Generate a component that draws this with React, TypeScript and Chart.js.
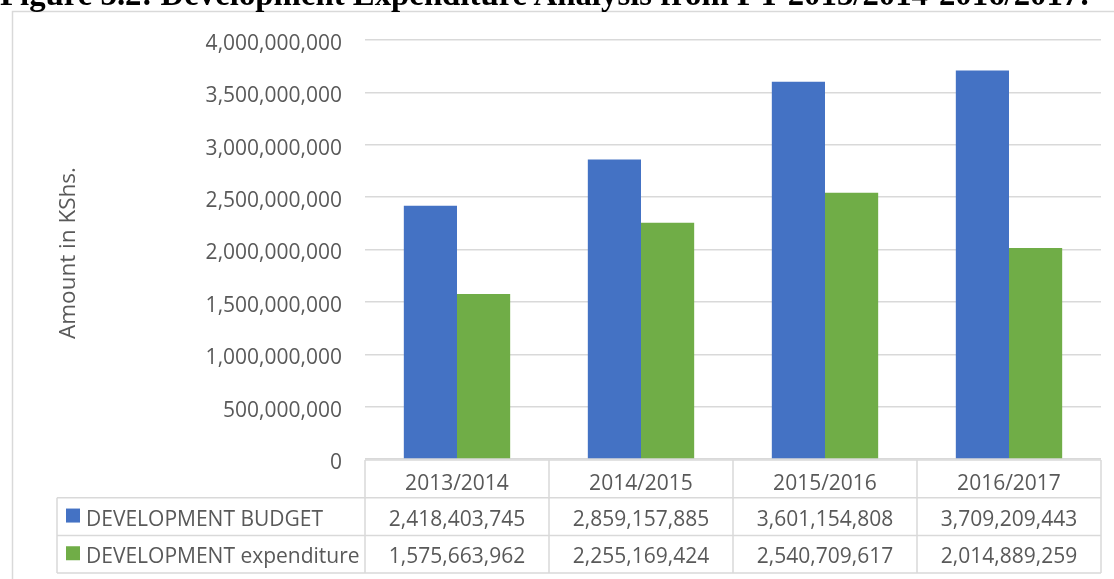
import React, { useEffect, useRef } from "react";
import { Chart, registerables } from "chart.js";

Chart.register(...registerables);

const TITLE = "Figure 3.2: Development Expenditure Analysis from FY 2013/2014-2016/2017:";
const AXIS_TITLE = "Amount in KShs.";
const categories = ["2013/2014", "2014/2015", "2015/2016", "2016/2017"];
const seriesNames = ["DEVELOPMENT BUDGET", "DEVELOPMENT expenditure"];
const budget = [2418403745, 2859157885, 3601154808, 3709209443];
const expenditure = [1575663962, 2255169424, 2540709617, 2014889259];
const yMin = 0;
const yMax = 4000000000;
const yStep = 500000000;
const seriesColors = ["#4472C4", "#70AD47"];

const FONT = "'Open Sans', sans-serif";
const TEXT_COLOR = "#595959";
const LINE_COLOR = "#d9d9d9";

const fmt = (v: number) => v.toLocaleString("en-US");

const tablePlugin = {
  id: "dataTable",
  beforeDraw(chart: any) {
    const ctx = chart.ctx;
    ctx.save();
    ctx.strokeStyle = LINE_COLOR;
    ctx.lineWidth = 1.5;
    ctx.beginPath();
    ctx.moveTo(12.5, chart.height);
    ctx.lineTo(12.5, 11.5);
    ctx.lineTo(chart.width, 11.5);
    ctx.stroke();
    ctx.restore();
  },
  afterDraw(chart: any) {
    const ctx = chart.ctx;
    const area = chart.chartArea;
    const xs = chart.scales.x;
    const n = categories.length;
    const colW = (area.right - area.left) / n;
    const top = area.bottom + 1;
    const rowH = 37.7;
    const legendLeft = 57;
    const rows = [budget, expenditure];
    ctx.save();
    ctx.strokeStyle = LINE_COLOR;
    ctx.lineWidth = 1.5;
    ctx.beginPath();
    ctx.moveTo(area.left, top);
    ctx.lineTo(area.right, top);
    for (let r = 1; r <= rows.length + 1; r++) {
      const y = top + r * rowH;
      ctx.moveTo(legendLeft, y);
      ctx.lineTo(area.right, y);
    }
    for (let c = 0; c <= n; c++) {
      const x = area.left + c * colW;
      ctx.moveTo(x, top);
      ctx.lineTo(x, top + (rows.length + 1) * rowH);
    }
    ctx.moveTo(legendLeft, top + rowH);
    ctx.lineTo(legendLeft, top + (rows.length + 1) * rowH);
    ctx.stroke();

    ctx.font = `21px ${FONT}`;
    ctx.fillStyle = TEXT_COLOR;
    ctx.textBaseline = "middle";
    rows.forEach((vals, r) => {
      const cy = top + (r + 1) * rowH + rowH / 2 + 3;
      ctx.textAlign = "center";
      ctx.fillStyle = TEXT_COLOR;
      vals.forEach((v, i) => {
        ctx.fillText(fmt(v), xs.getPixelForValue(i), cy);
      });
      ctx.fillStyle = seriesColors[r];
      ctx.fillRect(66, cy - 11, 14, 14);
      ctx.fillStyle = TEXT_COLOR;
      ctx.textAlign = "left";
      ctx.fillText(seriesNames[r], 86, cy);
    });

    // y-axis title
    ctx.save();
    ctx.font = `22.5px ${FONT}`;
    ctx.translate(69, 253);
    ctx.rotate(-Math.PI / 2);
    ctx.textAlign = "center";
    ctx.textBaseline = "middle";
    ctx.fillStyle = TEXT_COLOR;
    ctx.fillText(AXIS_TITLE, 0, 0);
    ctx.restore();
    ctx.restore();
  },
};

export default function App() {
  const ref = useRef<HTMLCanvasElement | null>(null);
  useEffect(() => {
    if (!ref.current) return;
    const chart = new Chart(ref.current, {
      type: "bar",
      data: {
        labels: categories,
        datasets: [
          { label: seriesNames[0], data: budget, backgroundColor: seriesColors[0] },
          { label: seriesNames[1], data: expenditure, backgroundColor: seriesColors[1] },
        ],
      },
      options: {
        responsive: false,
        animation: false,
        maintainAspectRatio: false,
        layout: { padding: { top: 40, right: 13, bottom: 0, left: 0 } },
        datasets: { bar: { barPercentage: 1, categoryPercentage: 0.578 } },
        plugins: { legend: { display: false }, tooltip: { enabled: false }, title: { display: false } },
        scales: {
          x: {
            grid: { display: false, drawTicks: false },
            border: { display: false },
            ticks: { font: { family: FONT, size: 21 }, color: TEXT_COLOR, padding: 12, maxRotation: 0 },
            afterFit: (s: any) => { s.height = 120; },
          },
          y: {
            min: yMin,
            max: yMax,
            grid: { color: LINE_COLOR, lineWidth: 1.5, drawTicks: false },
            border: { display: false },
            ticks: {
              stepSize: yStep,
              font: { family: FONT, size: 21 },
              color: TEXT_COLOR,
              padding: 23,
              labelOffset: 4,
              callback: (v: any) => fmt(Number(v)),
            },
            afterFit: (s: any) => { s.width = 365; },
          },
        },
      },
      plugins: [tablePlugin],
    });
    return () => chart.destroy();
  }, []);
  return (
    <div style={{ position: "absolute", left: 0, top: 0, width: 1114, height: 579, overflow: "hidden", background: "#fff" }}>
      <canvas ref={ref} width={1114} height={579} style={{ position: "absolute", left: 0, top: 0 }} />
      <div
        style={{
          position: "absolute",
          left: 0,
          top: -22,
          fontFamily: "'Liberation Serif', 'Times New Roman', serif",
          fontWeight: "bold",
          fontSize: 32.8,
          lineHeight: "33px",
          whiteSpace: "nowrap",
          color: "#000",
        }}
      >
        {TITLE}
      </div>
    </div>
  );
}
